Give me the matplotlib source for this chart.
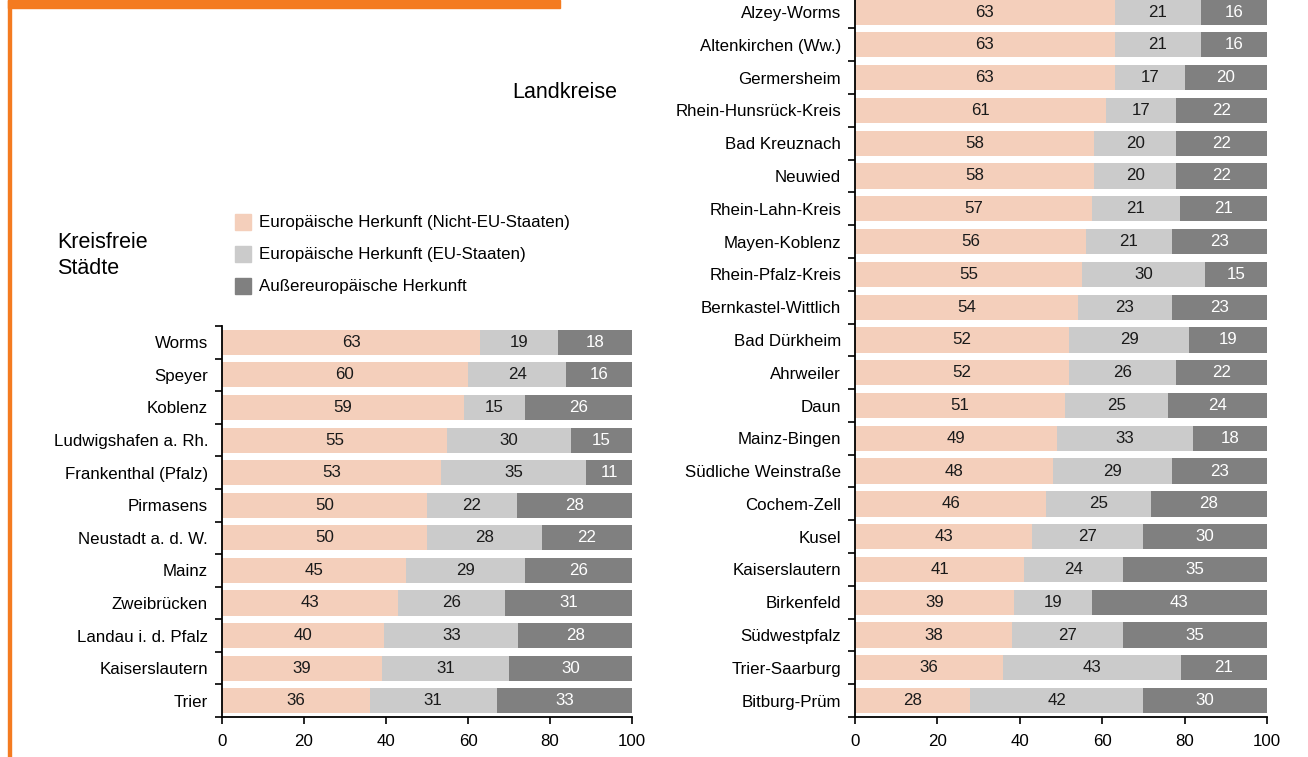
import matplotlib.pyplot as plt
import numpy as np
from matplotlib.patches import Rectangle

plt.rcParams['font.family'] = ['Liberation Sans', 'DejaVu Sans']

# Kreisfreie Staedte
staedte = ['Worms', 'Speyer', 'Koblenz', 'Ludwigshafen a. Rh.', 'Frankenthal (Pfalz)',
           'Pirmasens', 'Neustadt a. d. W.', 'Mainz', 'Zweibrücken', 'Landau i. d. Pfalz',
           'Kaiserslautern', 'Trier']
staedte_nicht_eu = [63, 60, 59, 55, 53, 50, 50, 45, 43, 40, 39, 36]
staedte_eu = [19, 24, 15, 30, 35, 22, 28, 29, 26, 33, 31, 31]
staedte_aussen = [18, 16, 26, 15, 11, 28, 22, 26, 31, 28, 30, 33]

# Landkreise
kreise = ['Alzey-Worms', 'Altenkirchen (Ww.)', 'Germersheim', 'Rhein-Hunsrück-Kreis',
          'Bad Kreuznach', 'Neuwied', 'Rhein-Lahn-Kreis', 'Mayen-Koblenz', 'Rhein-Pfalz-Kreis',
          'Bernkastel-Wittlich', 'Bad Dürkheim', 'Ahrweiler', 'Daun', 'Mainz-Bingen',
          'Südliche Weinstraße', 'Cochem-Zell', 'Kusel', 'Kaiserslautern', 'Birkenfeld',
          'Südwestpfalz', 'Trier-Saarburg', 'Bitburg-Prüm']
kreise_nicht_eu = [63, 63, 63, 61, 58, 58, 57, 56, 55, 54, 52, 52, 51, 49, 48, 46, 43, 41, 39, 38, 36, 28]
kreise_eu = [21, 21, 17, 17, 20, 20, 21, 21, 30, 23, 29, 26, 25, 33, 29, 25, 27, 24, 19, 27, 43, 42]
kreise_aussen = [16, 16, 20, 22, 22, 22, 21, 23, 15, 23, 19, 22, 24, 18, 23, 28, 30, 35, 43, 35, 21, 30]

serien = ['Europäische Herkunft (Nicht-EU-Staaten)',
          'Europäische Herkunft (EU-Staaten)',
          'Außereuropäische Herkunft']
farben = ['#F4CFBB', '#CBCBCB', '#808080']
textfarben = ['#1a1a1a', '#1a1a1a', 'white']

ORANGE = '#F47B20'
FS = 12.2


def stacked_bars(ax, labels, reihen):
    werte = np.array(reihen, dtype=float).T
    anteile = werte / werte.sum(axis=1, keepdims=True) * 100
    y = np.arange(len(labels))
    left = np.zeros(len(labels))
    for k in range(3):
        ax.barh(y, anteile[:, k], left=left, height=0.77, color=farben[k], linewidth=0)
        for i in range(len(labels)):
            ax.text(left[i] + anteile[i, k] / 2, y[i], f'{int(werte[i, k])}',
                    ha='center', va='center', fontsize=FS, color=textfarben[k])
        left += anteile[:, k]
    ax.set_xlim(0, 100)
    ax.set_ylim(len(labels) - 0.5, -0.5)
    ax.set_yticks(y)
    ax.set_yticklabels(labels, fontsize=FS)
    ax.set_yticks(np.arange(len(labels) + 1) - 0.5, minor=True)
    ax.tick_params(axis='y', which='major', length=0, pad=10)
    ax.tick_params(axis='y', which='minor', length=5, width=1.2, direction='out')
    ax.set_xticks([0, 20, 40, 60, 80, 100])
    ax.tick_params(axis='x', length=5, width=1.2, labelsize=FS, pad=7)
    for s in ['top', 'right']:
        ax.spines[s].set_visible(False)
    for s in ['left', 'bottom']:
        ax.spines[s].set_linewidth(1.3)


fig = plt.figure(figsize=(13.08, 7.57), dpi=100)

ax1 = fig.add_axes([0.1697, 0.0528, 0.3135, 0.5165])
stacked_bars(ax1, staedte, [staedte_nicht_eu, staedte_eu, staedte_aussen])

ax2 = fig.add_axes([0.6537, 0.0528, 0.315, 0.953])
stacked_bars(ax2, kreise, [kreise_nicht_eu, kreise_eu, kreise_aussen])

# orange decoration
fig.patches.append(Rectangle((8 / 1308, 1 - 8 / 757), 552 / 1308, 8 / 757,
                             transform=fig.transFigure, color=ORANGE, zorder=5))
fig.patches.append(Rectangle((8 / 1308, 0), 3 / 1308, 1,
                             transform=fig.transFigure, color=ORANGE, zorder=5))

fig.text(565 / 1308, 1 - 92 / 757, 'Landkreise', ha='center', va='center', fontsize=15.5)
fig.text(57 / 1308, 1 - 242 / 757, 'Kreisfreie', ha='left', va='center', fontsize=15.5)
fig.text(57 / 1308, 1 - 269 / 757, 'Städte', ha='left', va='center', fontsize=15.5)

# legend
for k, name in enumerate(serien):
    yc = 222 + k * 32
    fig.patches.append(Rectangle((235 / 1308, 1 - (yc + 8) / 757), 16 / 1308, 16 / 757,
                                 transform=fig.transFigure, color=farben[k]))
    fig.text(259 / 1308, 1 - yc / 757, name, ha='left', va='center', fontsize=FS)

fig.savefig('out.png', dpi=100)
